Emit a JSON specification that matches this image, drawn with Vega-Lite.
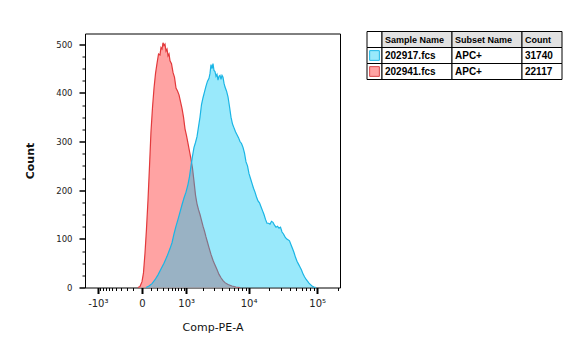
{
  "$schema": "https://vega.github.io/schema/vega-lite/v6.json",
  "padding": {"left": 24, "top": 30.5, "right": 5, "bottom": 5},
  "background": "white",
  "config": {
    "font": "DejaVu Sans",
    "axis": {"labelFont": "DejaVu Sans", "titleFont": "DejaVu Sans", "grid": false}
  },
  "datasets": {
    "hist": [
      {"sample": "202941.fcs", "value": -43, "count": 0},
      {"sample": "202941.fcs", "value": -21, "count": 2},
      {"sample": "202941.fcs", "value": 0, "count": 12},
      {"sample": "202941.fcs", "value": 15, "count": 30},
      {"sample": "202941.fcs", "value": 31, "count": 70},
      {"sample": "202941.fcs", "value": 48, "count": 120},
      {"sample": "202941.fcs", "value": 66, "count": 180},
      {"sample": "202941.fcs", "value": 85, "count": 250},
      {"sample": "202941.fcs", "value": 104, "count": 320},
      {"sample": "202941.fcs", "value": 125, "count": 370},
      {"sample": "202941.fcs", "value": 147, "count": 410},
      {"sample": "202941.fcs", "value": 170, "count": 440},
      {"sample": "202941.fcs", "value": 193, "count": 460},
      {"sample": "202941.fcs", "value": 219, "count": 480},
      {"sample": "202941.fcs", "value": 245, "count": 478},
      {"sample": "202941.fcs", "value": 263, "count": 493},
      {"sample": "202941.fcs", "value": 283, "count": 490},
      {"sample": "202941.fcs", "value": 302, "count": 503},
      {"sample": "202941.fcs", "value": 322, "count": 497},
      {"sample": "202941.fcs", "value": 343, "count": 500},
      {"sample": "202941.fcs", "value": 365, "count": 486},
      {"sample": "202941.fcs", "value": 388, "count": 490},
      {"sample": "202941.fcs", "value": 411, "count": 476},
      {"sample": "202941.fcs", "value": 435, "count": 480},
      {"sample": "202941.fcs", "value": 460, "count": 466},
      {"sample": "202941.fcs", "value": 498, "count": 460},
      {"sample": "202941.fcs", "value": 539, "count": 442},
      {"sample": "202941.fcs", "value": 582, "count": 432},
      {"sample": "202941.fcs", "value": 627, "count": 410},
      {"sample": "202941.fcs", "value": 674, "count": 404},
      {"sample": "202941.fcs", "value": 724, "count": 396},
      {"sample": "202941.fcs", "value": 776, "count": 382},
      {"sample": "202941.fcs", "value": 831, "count": 368},
      {"sample": "202941.fcs", "value": 889, "count": 350},
      {"sample": "202941.fcs", "value": 949, "count": 326},
      {"sample": "202941.fcs", "value": 1013, "count": 312},
      {"sample": "202941.fcs", "value": 1080, "count": 296},
      {"sample": "202941.fcs", "value": 1150, "count": 280},
      {"sample": "202941.fcs", "value": 1224, "count": 264},
      {"sample": "202941.fcs", "value": 1302, "count": 245},
      {"sample": "202941.fcs", "value": 1384, "count": 218},
      {"sample": "202941.fcs", "value": 1470, "count": 190},
      {"sample": "202941.fcs", "value": 1560, "count": 172},
      {"sample": "202941.fcs", "value": 1655, "count": 160},
      {"sample": "202941.fcs", "value": 1755, "count": 150},
      {"sample": "202941.fcs", "value": 1860, "count": 138},
      {"sample": "202941.fcs", "value": 1970, "count": 126},
      {"sample": "202941.fcs", "value": 2086, "count": 116},
      {"sample": "202941.fcs", "value": 2207, "count": 104},
      {"sample": "202941.fcs", "value": 2335, "count": 93},
      {"sample": "202941.fcs", "value": 2470, "count": 82},
      {"sample": "202941.fcs", "value": 2659, "count": 68},
      {"sample": "202941.fcs", "value": 2862, "count": 56},
      {"sample": "202941.fcs", "value": 3079, "count": 46},
      {"sample": "202941.fcs", "value": 3311, "count": 37},
      {"sample": "202941.fcs", "value": 3559, "count": 27},
      {"sample": "202941.fcs", "value": 3824, "count": 20},
      {"sample": "202941.fcs", "value": 4107, "count": 14},
      {"sample": "202941.fcs", "value": 4409, "count": 10},
      {"sample": "202941.fcs", "value": 4902, "count": 6},
      {"sample": "202941.fcs", "value": 5640, "count": 3},
      {"sample": "202941.fcs", "value": 6482, "count": 1},
      {"sample": "202941.fcs", "value": 7444, "count": 0},
      {"sample": "202917.fcs", "value": 43, "count": 0},
      {"sample": "202917.fcs", "value": 78, "count": 3},
      {"sample": "202917.fcs", "value": 118, "count": 8},
      {"sample": "202917.fcs", "value": 162, "count": 16},
      {"sample": "202917.fcs", "value": 210, "count": 26},
      {"sample": "202917.fcs", "value": 263, "count": 38},
      {"sample": "202917.fcs", "value": 322, "count": 50},
      {"sample": "202917.fcs", "value": 388, "count": 64},
      {"sample": "202917.fcs", "value": 460, "count": 80},
      {"sample": "202917.fcs", "value": 512, "count": 92},
      {"sample": "202917.fcs", "value": 567, "count": 110},
      {"sample": "202917.fcs", "value": 627, "count": 126},
      {"sample": "202917.fcs", "value": 690, "count": 140},
      {"sample": "202917.fcs", "value": 758, "count": 155},
      {"sample": "202917.fcs", "value": 831, "count": 170},
      {"sample": "202917.fcs", "value": 908, "count": 184},
      {"sample": "202917.fcs", "value": 991, "count": 196},
      {"sample": "202917.fcs", "value": 1080, "count": 212},
      {"sample": "202917.fcs", "value": 1150, "count": 228},
      {"sample": "202917.fcs", "value": 1224, "count": 250},
      {"sample": "202917.fcs", "value": 1302, "count": 270},
      {"sample": "202917.fcs", "value": 1384, "count": 288},
      {"sample": "202917.fcs", "value": 1470, "count": 298},
      {"sample": "202917.fcs", "value": 1560, "count": 310},
      {"sample": "202917.fcs", "value": 1655, "count": 330},
      {"sample": "202917.fcs", "value": 1755, "count": 350},
      {"sample": "202917.fcs", "value": 1860, "count": 376},
      {"sample": "202917.fcs", "value": 1970, "count": 390},
      {"sample": "202917.fcs", "value": 2086, "count": 402},
      {"sample": "202917.fcs", "value": 2207, "count": 414},
      {"sample": "202917.fcs", "value": 2335, "count": 424},
      {"sample": "202917.fcs", "value": 2470, "count": 430},
      {"sample": "202917.fcs", "value": 2563, "count": 440},
      {"sample": "202917.fcs", "value": 2659, "count": 458},
      {"sample": "202917.fcs", "value": 2760, "count": 450},
      {"sample": "202917.fcs", "value": 2862, "count": 460},
      {"sample": "202917.fcs", "value": 2969, "count": 446},
      {"sample": "202917.fcs", "value": 3079, "count": 444},
      {"sample": "202917.fcs", "value": 3193, "count": 434},
      {"sample": "202917.fcs", "value": 3311, "count": 438},
      {"sample": "202917.fcs", "value": 3433, "count": 426},
      {"sample": "202917.fcs", "value": 3559, "count": 434},
      {"sample": "202917.fcs", "value": 3689, "count": 436},
      {"sample": "202917.fcs", "value": 3824, "count": 428},
      {"sample": "202917.fcs", "value": 3963, "count": 436},
      {"sample": "202917.fcs", "value": 4107, "count": 432},
      {"sample": "202917.fcs", "value": 4255, "count": 420},
      {"sample": "202917.fcs", "value": 4409, "count": 412},
      {"sample": "202917.fcs", "value": 4649, "count": 404},
      {"sample": "202917.fcs", "value": 4902, "count": 392},
      {"sample": "202917.fcs", "value": 5166, "count": 372},
      {"sample": "202917.fcs", "value": 5446, "count": 350},
      {"sample": "202917.fcs", "value": 5739, "count": 336},
      {"sample": "202917.fcs", "value": 6047, "count": 328},
      {"sample": "202917.fcs", "value": 6371, "count": 320},
      {"sample": "202917.fcs", "value": 6711, "count": 314},
      {"sample": "202917.fcs", "value": 7069, "count": 308},
      {"sample": "202917.fcs", "value": 7444, "count": 300},
      {"sample": "202917.fcs", "value": 7841, "count": 296},
      {"sample": "202917.fcs", "value": 8257, "count": 288},
      {"sample": "202917.fcs", "value": 8693, "count": 276},
      {"sample": "202917.fcs", "value": 9152, "count": 258},
      {"sample": "202917.fcs", "value": 9634, "count": 250},
      {"sample": "202917.fcs", "value": 10141, "count": 234},
      {"sample": "202917.fcs", "value": 10674, "count": 224},
      {"sample": "202917.fcs", "value": 11233, "count": 214},
      {"sample": "202917.fcs", "value": 11822, "count": 204},
      {"sample": "202917.fcs", "value": 12440, "count": 196},
      {"sample": "202917.fcs", "value": 13090, "count": 186},
      {"sample": "202917.fcs", "value": 13773, "count": 178},
      {"sample": "202917.fcs", "value": 14491, "count": 174},
      {"sample": "202917.fcs", "value": 15246, "count": 166},
      {"sample": "202917.fcs", "value": 16039, "count": 158},
      {"sample": "202917.fcs", "value": 16872, "count": 150},
      {"sample": "202917.fcs", "value": 17748, "count": 140},
      {"sample": "202917.fcs", "value": 18669, "count": 132},
      {"sample": "202917.fcs", "value": 19637, "count": 132},
      {"sample": "202917.fcs", "value": 20654, "count": 130},
      {"sample": "202917.fcs", "value": 21723, "count": 136},
      {"sample": "202917.fcs", "value": 22846, "count": 134},
      {"sample": "202917.fcs", "value": 24027, "count": 128},
      {"sample": "202917.fcs", "value": 25268, "count": 124},
      {"sample": "202917.fcs", "value": 26572, "count": 126},
      {"sample": "202917.fcs", "value": 27943, "count": 122},
      {"sample": "202917.fcs", "value": 29384, "count": 124},
      {"sample": "202917.fcs", "value": 30899, "count": 114},
      {"sample": "202917.fcs", "value": 32490, "count": 110},
      {"sample": "202917.fcs", "value": 34163, "count": 104},
      {"sample": "202917.fcs", "value": 35922, "count": 100},
      {"sample": "202917.fcs", "value": 37769, "count": 98},
      {"sample": "202917.fcs", "value": 39712, "count": 96},
      {"sample": "202917.fcs", "value": 41753, "count": 88},
      {"sample": "202917.fcs", "value": 43898, "count": 80},
      {"sample": "202917.fcs", "value": 46153, "count": 72},
      {"sample": "202917.fcs", "value": 48523, "count": 62},
      {"sample": "202917.fcs", "value": 51014, "count": 54},
      {"sample": "202917.fcs", "value": 53631, "count": 48},
      {"sample": "202917.fcs", "value": 56383, "count": 42},
      {"sample": "202917.fcs", "value": 59275, "count": 36},
      {"sample": "202917.fcs", "value": 62314, "count": 28},
      {"sample": "202917.fcs", "value": 65508, "count": 22},
      {"sample": "202917.fcs", "value": 68865, "count": 17},
      {"sample": "202917.fcs", "value": 72394, "count": 13},
      {"sample": "202917.fcs", "value": 76103, "count": 9},
      {"sample": "202917.fcs", "value": 80000, "count": 6},
      {"sample": "202917.fcs", "value": 84097, "count": 3},
      {"sample": "202917.fcs", "value": 89890, "count": 1},
      {"sample": "202917.fcs", "value": 96076, "count": 0}
    ],
    "legendTable": [
      {"col": "swatch", "row": "header", "text": ""},
      {"col": "swatch", "row": "r1", "text": "", "sample": "202917.fcs"},
      {"col": "swatch", "row": "r2", "text": "", "sample": "202941.fcs"},
      {"col": "Sample Name", "row": "header", "text": "Sample Name"},
      {"col": "Sample Name", "row": "r1", "text": "202917.fcs"},
      {"col": "Sample Name", "row": "r2", "text": "202941.fcs"},
      {"col": "Subset Name", "row": "header", "text": "Subset Name"},
      {"col": "Subset Name", "row": "r1", "text": "APC+"},
      {"col": "Subset Name", "row": "r2", "text": "APC+"},
      {"col": "Count", "row": "header", "text": "Count"},
      {"col": "Count", "row": "r1", "text": "31740"},
      {"col": "Count", "row": "r2", "text": "22117"}
    ]
  },
  "spacing": 25,
  "hconcat": [
    {
      "width": 255,
      "height": 254,
      "view": {"stroke": "black", "strokeWidth": 1},
      "data": {"name": "hist"},
      "encoding": {
        "x": {
          "field": "value",
          "type": "quantitative",
          "scale": {"type": "symlog", "constant": 300, "domain": [-1688, 213400], "nice": false, "zero": false},
          "axis": {
            "values": [-1000, -900, -800, -700, -600, -500, -400, -300, -200, -100, 0, 100, 200, 300, 400, 500, 600, 700, 800, 900, 1000, 2000, 3000, 4000, 5000, 6000, 7000, 8000, 9000, 10000, 20000, 30000, 40000, 50000, 60000, 70000, 80000, 90000, 100000, 200000],
            "labelExpr": "datum.value == -1000 ? '-10³' : datum.value == 0 ? '0' : datum.value == 1000 ? '10³' : datum.value == 10000 ? '10⁴' : datum.value == 100000 ? '10⁵' : ''",
            "tickSize": {"condition": {"test": "indexof([-1000, 0, 1000, 10000, 100000], datum.value) >= 0", "value": 6}, "value": 3},
            "tickWidth": {"condition": {"test": "indexof([-1000, 0, 1000, 10000, 100000], datum.value) >= 0", "value": 2}, "value": 1},
            "tickColor": "black",
            "domain": false,
            "labelOverlap": false,
            "labelFlush": false,
            "labelFontSize": 10,
            "labelColor": "#222222",
            "labelPadding": 5,
            "title": "Comp-PE-A",
            "titleFontSize": 11,
            "titleFontWeight": "normal",
            "titleColor": "#111111",
            "titlePadding": 13
          }
        },
        "y": {
          "field": "count",
          "type": "quantitative",
          "scale": {"domain": [0, 522], "nice": false},
          "axis": {
            "values": [0, 25, 50, 75, 100, 125, 150, 175, 200, 225, 250, 275, 300, 325, 350, 375, 400, 425, 450, 475, 500],
            "labelExpr": "datum.value % 100 == 0 ? datum.label : ''",
            "tickSize": {"condition": {"test": "datum.value % 100 == 0", "value": 6}, "value": 3},
            "tickWidth": {"condition": {"test": "datum.value % 100 == 0", "value": 1.5}, "value": 1},
            "tickColor": "black",
            "domain": false,
            "labelOverlap": false,
            "labelFontSize": 8.5,
            "labelColor": "#222222",
            "labelPadding": 7,
            "title": "Count",
            "titleFontSize": 11,
            "titleFontWeight": "bold",
            "titleColor": "#111111",
            "titlePadding": 20
          }
        }
      },
      "layer": [
        {
          "transform": [{"filter": "datum.sample == '202941.fcs'"}],
          "mark": {"type": "area", "fill": "#ffa3a3", "fillOpacity": 1, "line": {"color": "#e2393b", "strokeWidth": 1.2}}
        },
        {
          "transform": [{"filter": "datum.sample == '202917.fcs'"}],
          "mark": {"type": "area", "fill": "#00c8f5", "fillOpacity": 0.4, "line": {"color": "#1ab5e5", "strokeWidth": 1.2}}
        }
      ]
    },
    {
      "spacing": 0,
      "bounds": "flush",
      "hconcat": [
        {
          "width": 15,
          "height": 48,
          "view": {"stroke": null},
          "data": {"name": "legendTable"},
          "transform": [{"filter": "datum.col == 'swatch'"}],
          "encoding": {
            "x": {"field": "col", "type": "nominal", "axis": null, "scale": {"paddingInner": 0, "paddingOuter": 0}},
            "y": {"field": "row", "type": "nominal", "axis": null, "scale": {"domain": ["header", "r1", "r2"], "range": [-2, 46], "paddingInner": 0, "paddingOuter": 0}}
          },
          "layer": [
            {"mark": {"type": "rect", "stroke": "black", "strokeWidth": 1, "fill": "white"}},
            {
              "transform": [{"filter": "datum.row != 'header'"}],
              "mark": {"type": "point", "shape": "square", "filled": true, "size": 95, "strokeWidth": 1, "opacity": 1},
              "encoding": {
                "fill": {"field": "sample", "type": "nominal", "legend": null, "scale": {"domain": ["202917.fcs", "202941.fcs"], "range": ["#99e9fb", "#ffa3a3"]}},
                "stroke": {"field": "sample", "type": "nominal", "legend": null, "scale": {"domain": ["202917.fcs", "202941.fcs"], "range": ["#1db7e6", "#d8474a"]}}
              }
            }
          ]
        },
        {
          "width": 70,
          "height": 48,
          "view": {"stroke": null},
          "data": {"name": "legendTable"},
          "transform": [{"filter": "datum.col == 'Sample Name'"}],
          "encoding": {
            "x": {"field": "col", "type": "nominal", "axis": null, "scale": {"paddingInner": 0, "paddingOuter": 0}},
            "y": {"field": "row", "type": "nominal", "axis": null, "scale": {"domain": ["header", "r1", "r2"], "range": [-2, 46], "paddingInner": 0, "paddingOuter": 0}}
          },
          "layer": [
            {"mark": {"type": "rect", "stroke": "black", "strokeWidth": 1},
             "encoding": {"color": {"condition": {"test": "datum.row == 'header'", "value": "#e2e2e2"}, "value": "white"}}},
            {"mark": {"type": "text", "align": "left", "dx": 3, "font": "Liberation Sans", "fontWeight": "bold", "color": "black"},
             "encoding": {"x": {"field": "col", "type": "nominal", "bandPosition": 0}, "text": {"field": "text"},
                          "size": {"condition": {"test": "datum.row == 'header'", "value": 9}, "value": 10}}}
          ]
        },
        {
          "width": 70,
          "height": 48,
          "view": {"stroke": null},
          "data": {"name": "legendTable"},
          "transform": [{"filter": "datum.col == 'Subset Name'"}],
          "encoding": {
            "x": {"field": "col", "type": "nominal", "axis": null, "scale": {"paddingInner": 0, "paddingOuter": 0}},
            "y": {"field": "row", "type": "nominal", "axis": null, "scale": {"domain": ["header", "r1", "r2"], "range": [-2, 46], "paddingInner": 0, "paddingOuter": 0}}
          },
          "layer": [
            {"mark": {"type": "rect", "stroke": "black", "strokeWidth": 1},
             "encoding": {"color": {"condition": {"test": "datum.row == 'header'", "value": "#e2e2e2"}, "value": "white"}}},
            {"mark": {"type": "text", "align": "left", "dx": 3, "font": "Liberation Sans", "fontWeight": "bold", "color": "black"},
             "encoding": {"x": {"field": "col", "type": "nominal", "bandPosition": 0}, "text": {"field": "text"},
                          "size": {"condition": {"test": "datum.row == 'header'", "value": 9}, "value": 10}}}
          ]
        },
        {
          "width": 40,
          "height": 48,
          "view": {"stroke": null},
          "data": {"name": "legendTable"},
          "transform": [{"filter": "datum.col == 'Count'"}],
          "encoding": {
            "x": {"field": "col", "type": "nominal", "axis": null, "scale": {"paddingInner": 0, "paddingOuter": 0}},
            "y": {"field": "row", "type": "nominal", "axis": null, "scale": {"domain": ["header", "r1", "r2"], "range": [-2, 46], "paddingInner": 0, "paddingOuter": 0}}
          },
          "layer": [
            {"mark": {"type": "rect", "stroke": "black", "strokeWidth": 1},
             "encoding": {"color": {"condition": {"test": "datum.row == 'header'", "value": "#e2e2e2"}, "value": "white"}}},
            {"mark": {"type": "text", "align": "left", "dx": 3, "font": "Liberation Sans", "fontWeight": "bold", "color": "black"},
             "encoding": {"x": {"field": "col", "type": "nominal", "bandPosition": 0}, "text": {"field": "text"},
                          "size": {"condition": {"test": "datum.row == 'header'", "value": 9}, "value": 10}}}
          ]
        }
      ]
    }
  ]
}
